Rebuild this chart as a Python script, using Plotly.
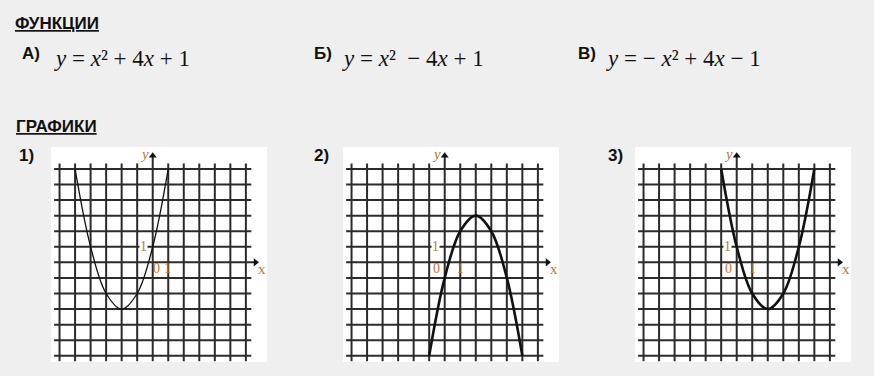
import plotly.graph_objects as go

# ---------------- data ----------------
FUNC_LETTERS = ["А)", "Б)", "В)"]
FUNC_FORMULAS = [
    "<i>y</i> = <i>x</i>² + 4<i>x</i> + 1",
    "<i>y</i> = <i>x</i>²  − 4<i>x</i> + 1",
    "<i>y</i> = − <i>x</i>² + 4<i>x</i> − 1",
]
GRAPH_LABELS = ["1)", "2)", "3)"]
GRID_TICKS = [-6, -5, -4, -3, -2, -1, 0, 1, 2, 3, 4, 5, 6]

curve1_x = [-5, -4, -3, -2, -1, 0, 1]
curve1_y = [6, 1, -2, -3, -2, 1, 6]
curve2_x = [-1, 0, 1, 2, 3, 4, 5]
curve2_y = [-6, -1, 2, 3, 2, -1, -6]
curve3_x = [-1, 0, 1, 2, 3, 4, 5]
curve3_y = [6, 1, -2, -3, -2, 1, 6]

CURVES = [(curve1_x, curve1_y, 1.3), (curve2_x, curve2_y, 2.6), (curve3_x, curve3_y, 2.6)]

# ---------------- layout helpers ----------------
W, H = 874, 376
BG = "#efefef"
GRID_C = "#2b2b2b"
LBL_C = "#bf7530"

def fx(px):
    return px / W

def fy(py):
    return 1 - py / H

PANEL_LEFT = [51, 343, 635]
PANEL_W = 216
PANEL_TOP, PANEL_BOT = 147, 362
XR = [-6.55, 7.36]
YR = [-6.40, 7.41]
EXT = 0.35
Y_TIP = 6.85
X_TIP = 6.62

fig = go.Figure()

for i, (cx, cy, lw) in enumerate(CURVES):
    xa = "x" if i == 0 else f"x{i+1}"
    ya = "y" if i == 0 else f"y{i+1}"
    gx, gy = [], []
    lo, hi = GRID_TICKS[0], GRID_TICKS[-1]
    for t in GRID_TICKS:
        gx += [t, t, None]
        gy += [lo - EXT, (Y_TIP if t == 0 else hi + EXT), None]
        gx += [lo - EXT, (X_TIP if t == 0 else hi + EXT), None]
        gy += [t, t, None]
    fig.add_trace(go.Scatter(x=gx, y=gy, mode="lines", xaxis=xa, yaxis=ya,
                             line=dict(color=GRID_C, width=2), hoverinfo="skip",
                             showlegend=False))
    fig.add_trace(go.Scatter(x=[0, X_TIP], y=[Y_TIP, 0], mode="markers", xaxis=xa, yaxis=ya,
                             marker=dict(symbol=["triangle-up", "triangle-right"], size=7,
                                         color="#111", line=dict(width=0)),
                             hoverinfo="skip", showlegend=False))
    fig.add_trace(go.Scatter(x=cx, y=cy, mode="lines", xaxis=xa, yaxis=ya,
                             line=dict(color="#111", width=lw, shape="spline", smoothing=1.0),
                             hoverinfo="skip", showlegend=False))
    ax_key = "xaxis" if i == 0 else f"xaxis{i+1}"
    ay_key = "yaxis" if i == 0 else f"yaxis{i+1}"
    L = PANEL_LEFT[i]
    fig.update_layout({
        ax_key: dict(domain=[fx(L), fx(L + PANEL_W)], range=XR, visible=False,
                     fixedrange=True, anchor=ya),
        ay_key: dict(domain=[fy(PANEL_BOT), fy(PANEL_TOP)], range=YR, visible=False,
                     fixedrange=True, anchor=xa),
    })
    lblfont = dict(family="Liberation Serif", size=14, color=LBL_C)
    fig.add_annotation(x=-0.55, y=6.95, xref=xa, yref=ya, text="<i>y</i>", showarrow=False,
                       font=dict(family="Liberation Serif", size=15, color=LBL_C))
    fig.add_annotation(x=7.05, y=-0.4, xref=xa, yref=ya, text="x", showarrow=False,
                       font=dict(family="Liberation Serif", size=15, color=LBL_C))
    fig.add_annotation(x=-0.57, y=1.0, xref=xa, yref=ya, text="1", showarrow=False,
                       font=lblfont, bgcolor="white", borderpad=0)
    zx = 0.25 if i == 0 else -0.54
    fig.add_annotation(x=zx, y=-0.42, xref=xa, yref=ya, text="0", showarrow=False,
                       font=lblfont)
    fig.add_annotation(x=0.95 if i == 0 else 1.0, y=-0.42, xref=xa, yref=ya, text="1",
                       showarrow=False, font=lblfont)

shapes = []
for L in PANEL_LEFT:
    shapes.append(dict(type="rect", xref="paper", yref="paper", x0=fx(L), x1=fx(L + PANEL_W),
                       y0=fy(PANEL_BOT), y1=fy(PANEL_TOP), fillcolor="white",
                       line=dict(width=0), layer="below"))

head_font = dict(family="Liberation Sans", size=17, color="#111")
annos = [
    dict(x=fx(13), y=fy(24), text="<b><u>ФУНКЦИИ</u></b>"),
    dict(x=fx(14), y=fy(127), text="<b><u>ГРАФИКИ</u></b>"),
]
for (px, py, t) in [(20, 53, FUNC_LETTERS[0]), (312, 53, FUNC_LETTERS[1]), (576, 53, FUNC_LETTERS[2])]:
    annos.append(dict(x=fx(px), y=fy(py), text=f"<b>{t}</b>"))
for (px, py, t) in [(17, 155, GRAPH_LABELS[0]), (312, 155, GRAPH_LABELS[1]), (606, 155, GRAPH_LABELS[2])]:
    annos.append(dict(x=fx(px), y=fy(py), text=f"<b>{t}</b>"))
for a in annos:
    fig.add_annotation(xref="paper", yref="paper", xanchor="left", yanchor="middle",
                       showarrow=False, font=head_font, **a)

form_font = dict(family="Liberation Serif", size=23, color="#111")
for px, t in zip([52, 340, 604], FUNC_FORMULAS):
    fig.add_annotation(x=fx(px), y=fy(58), xref="paper", yref="paper", xanchor="left",
                       yanchor="middle", showarrow=False, text=t, font=form_font)

fig.update_layout(width=W, height=H, margin=dict(l=0, r=0, t=0, b=0),
                  paper_bgcolor=BG, plot_bgcolor="rgba(0,0,0,0)", shapes=shapes,
                  showlegend=False)

fig.write_html("out.html", config={"displayModeBar": False},
               post_script="document.body.style.margin='0px';document.body.style.padding='0px';")
